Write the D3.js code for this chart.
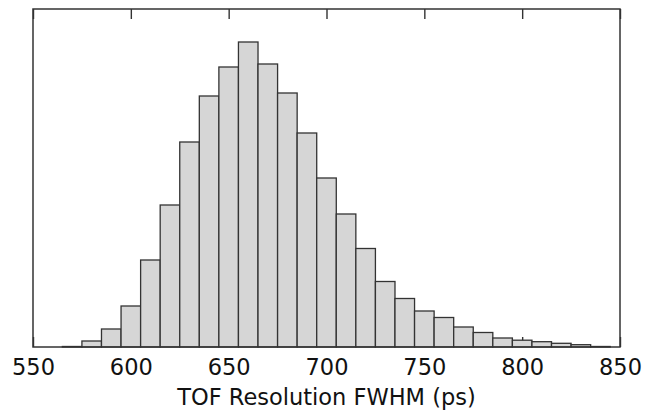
<!DOCTYPE html>
<html>
<head>
<meta charset="utf-8">
<script src="https://cdn.jsdelivr.net/npm/d3@7"></script>
<style>
  body { margin: 0; background: #fff; }
  text { font-family: "DejaVu Sans", sans-serif; fill: #111; }
</style>
</head>
<body>
<div id="chart"></div>
<script>
(function () {

    var width = 647;
    var height = 415;

    // histogram bins (left edges, ps), width 10
    var binStarts = [565, 575, 585, 595, 605, 615, 625, 635, 645, 655, 665, 675, 685, 695,
                     705, 715, 725, 735, 745, 755, 765, 775, 785, 795, 805, 815, 825, 835];
    // relative counts
    var counts = [5, 60, 180, 410, 870, 1420, 2050, 2510, 2800, 3050, 2830, 2540, 2140, 1690,
                  1330, 985, 655, 485, 360, 295, 200, 145, 90, 68, 53, 37, 23, 5];
    var binWidth = 10;
    var tickValues = [550, 600, 650, 700, 750, 800, 850];
    var xLabel = "TOF Resolution FWHM (ps)";

    var margin = { top: 9, right: 27, bottom: 68, left: 33 };
    var innerW = width - margin.left - margin.right;
    var innerH = height - margin.top - margin.bottom;

    var svg = d3.select("#chart")
        .append("svg")
        .attr("width", width)
        .attr("height", height)
        .append("g")
        .attr("transform", "translate(" + margin.left + "," + margin.top + ")")

    var x = d3.scaleLinear().domain([550, 850]).range([0, innerW])
    var y = d3.scaleLinear().domain([0, 3380]).range([innerH, 0])

    // inward ticks, bottom and top
    svg.append("g")
        .attr("class", "axis-bottom")
        .attr("transform", "translate(0," + innerH + ")")
        .call(d3.axisBottom(x).tickValues(tickValues).tickSizeInner(-10).tickSizeOuter(0).tickPadding(12))

    svg.append("g")
        .attr("class", "axis-top")
        .call(d3.axisTop(x).tickValues(tickValues).tickSizeInner(-10).tickSizeOuter(0).tickFormat(""))

    svg.selectAll(".domain").remove()
    svg.selectAll(".tick line").attr("stroke", "#333").attr("stroke-width", 1.4)
    svg.select(".axis-bottom").selectAll(".tick text")
        .attr("font-size", 22.5)
        .attr("font-family", "DejaVu Sans, sans-serif")
        .attr("fill", "#111")

    var data = binStarts.map(function (b, i) { return { x0: b, x1: b + binWidth, n: counts[i] }; });

    svg.selectAll(".bar")
        .data(data)
        .enter().append("rect")
        .attr("class", "bar")
        .attr("x", function (d) { return x(d.x0) })
        .attr("width", function (d) { return x(d.x1) - x(d.x0) })
        .attr("y", function (d) { return y(d.n) })
        .attr("height", function (d) { return innerH - y(d.n) })
        .attr("fill", "#d6d6d6")
        .attr("stroke", "#333")
        .attr("stroke-width", 1.3)

    // frame
    svg.append("rect")
        .attr("x", 0)
        .attr("y", 0)
        .attr("width", innerW)
        .attr("height", innerH)
        .attr("fill", "none")
        .attr("stroke", "#333")
        .attr("stroke-width", 1.5)

    svg.append("text")
        .attr("x", innerW / 2)
        .attr("y", innerH + 58)
        .attr("text-anchor", "middle")
        .attr("font-size", 22.5)
        .text(xLabel)

})();
</script>
</body>
</html>
